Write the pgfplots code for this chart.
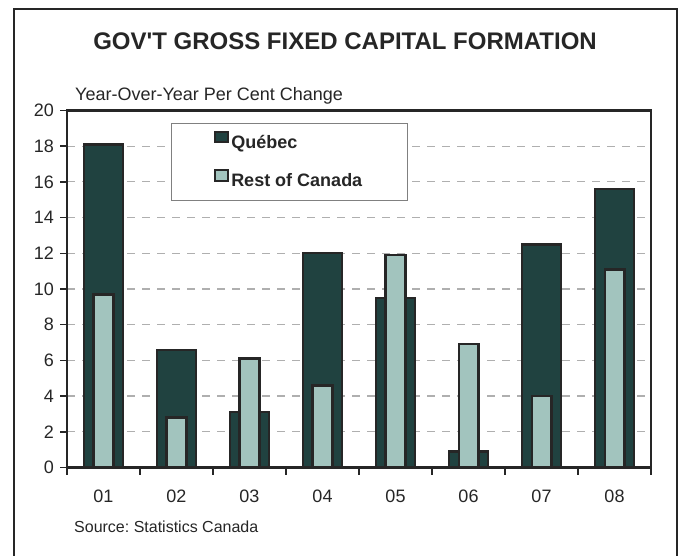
\documentclass[border=0pt]{standalone}
\usepackage{pgfplots}
\pgfplotsset{compat=1.18}
\usepackage{fontspec}
\setmainfont{Liberation Sans}
\newfontfamily\titlefont{Liberation Sans}[Ligatures=TeXOff]
\frenchspacing
\definecolor{qc}{RGB}{32,66,64}
\definecolor{roc}{RGB}{162,196,190}
\definecolor{edge}{RGB}{38,38,38}
\definecolor{gridc}{RGB}{175,175,175}
\pgfplotstableread{
x q r
1 18.1 9.7
2 6.6 2.8
3 3.1 6.1
4 12.0 4.6
5 9.5 11.9
6 0.9 6.9
7 12.5 4.0
8 15.6 11.1
}\data
\begin{document}
\begin{tikzpicture}[x=1pt,y=1pt]
\useasboundingbox (0,0) rectangle (679,556);
\draw[edge, line width=2.6pt] (14,-10) rectangle (677,547);
\node[anchor=base, font=\titlefont\fontsize{24}{26}\selectfont\bfseries, text=edge] at (345,506) {GOV'T GROSS FIXED CAPITAL FORMATION};
\node[anchor=base west, inner sep=0pt, font=\fontsize{18}{20}\selectfont, text=edge] at (75,455) {Year-Over-Year Per Cent Change};
\node[anchor=base west, inner sep=0pt, font=\fontsize{16}{18}\selectfont, text=edge] at (74,23) {Source: Statistics Canada};
\begin{axis}[
  at={(67pt,88.5pt)}, anchor=south west,
  scale only axis, width=584pt, height=357pt,
  xmin=0.5, xmax=8.5, ymin=0, ymax=20,
  ytick={0,2,...,20},
  xtick={1,...,8},
  xticklabels={01,02,03,04,05,06,07,08},
  minor xtick={0.5,1.5,...,8.5},
  major x tick style={draw=none},
  tick align=outside, xtick pos=bottom, ytick pos=left,
  major tick length=7pt, minor tick length=7pt,
  every tick/.style={edge, line width=1.5pt},
  axis line style={edge, line width=2.2pt},
  ymajorgrids, grid style={gridc, line width=1.2pt, dash pattern=on 8pt off 7pt},
  tick label style={font=\fontsize{18}{20}\selectfont, text=edge},
  /pgf/number format/assume math mode=true,
  yticklabel style={inner sep=0pt, xshift=-6pt},
  xticklabel style={inner sep=0pt, anchor=base, yshift=-28pt},
  ybar, bar shift=0pt,
  legend style={at={(0.178,0.965)}, anchor=north west, draw=gray, line width=1pt, fill=white,
    inner xsep=43pt, inner ysep=7.5pt, row sep=15pt,
    font=\fontsize{18}{20}\selectfont\bfseries, text=edge,
    nodes={inner sep=2pt, text height=13pt, text depth=4pt}},
  legend cell align=left,
  legend image code/.code={\draw[#1, line width=1.8pt] (0pt,1.5pt) rectangle (13pt,12pt);},
]
\addplot[fill=qc, draw=edge, line width=2.3pt, bar width=0.54] table[x=x, y=q] {\data};
\addlegendentry{Québec}
\addplot[fill=roc, draw=edge, line width=2.3pt, bar width=0.27] table[x=x, y=r] {\data};
\addlegendentry{Rest of Canada}
\end{axis}
\end{tikzpicture}
\end{document}
